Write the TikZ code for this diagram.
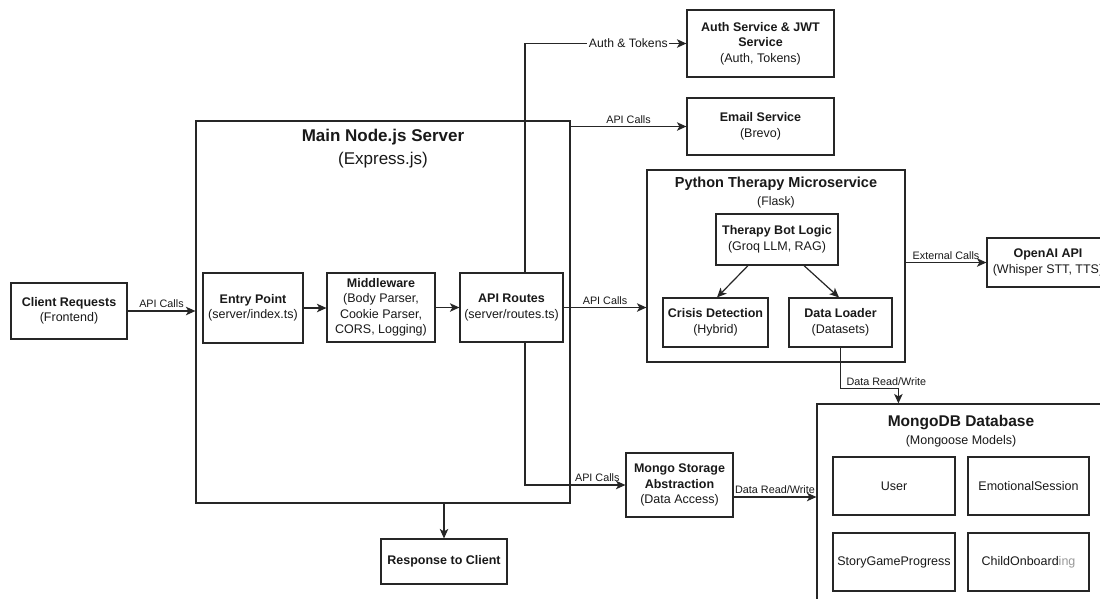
\documentclass[tikz,border=0pt]{standalone}
\usepackage{fontspec}
\setmainfont{Liberation Sans}
\usetikzlibrary{arrows.meta,calc}

\tikzset{
  box/.style={draw=black!85, line width=1.2pt, fill=white, inner sep=2pt,
    align=center, text=black!90, font=\fontsize{12.5}{15.5}\selectfont},
  conn/.style={draw=black!85, line width=1.2pt,
    -{Stealth[length=9.5pt,width=8.5pt,inset=2.5pt]}},
  lbl/.style={font=\fontsize{10.8}{12}\selectfont, text=black!90, inner sep=1.5pt},
  ttl/.style={text=black!90, inner sep=0pt},
}

\begin{document}
\begin{tikzpicture}[x=1pt, y=-1pt]
\useasboundingbox (0,0) rectangle (1100,598);
\clip (0,0) rectangle (1100,598);
\fill[white] (0,0) rectangle (1100,598);

% Main server container
\node[box, minimum width=374pt, minimum height=382pt] (main) at (383,312) {};
\node[ttl, font=\fontsize{17}{20}\selectfont\bfseries] (maint) at (383,137) {Main Node.js Server};
\node[ttl, font=\fontsize{17}{20}\selectfont] (mains) at (383,160) {(Express.js)};

% Python microservice container
\node[box, minimum width=258pt, minimum height=192pt] (python) at (776,266) {};
\node[ttl, font=\fontsize{14.5}{17}\selectfont\bfseries] (pyt) at (776,184) {Python Therapy Microservice};
\node[ttl, font=\fontsize{12.3}{15}\selectfont] (pys) at (776,202) {(Flask)};

% MongoDB container
\node[box, minimum width=288pt, minimum height=216pt] (mongodb) at (961,512) {};
\node[ttl, font=\fontsize{15.5}{18}\selectfont\bfseries] (mdbt) at (961,423) {MongoDB Database};
\node[ttl, font=\fontsize{12.5}{15}\selectfont] (mdbs) at (961,441) {(Mongoose Models)};

% Boxes
\node[box, minimum width=116pt, minimum height=56pt] (client) at (69,311)
  {\textbf{Client Requests}\\(Frontend)};
\node[box, minimum width=100pt, minimum height=70pt] (entry) at (253,308)
  {\textbf{Entry Point}\\(server/index.ts)};
\node[box, minimum width=108pt, minimum height=69pt] (middleware) at (381,307.5)
  {\textbf{Middleware}\\(Body Parser,\\Cookie Parser,\\CORS, Logging)};
\node[box, minimum width=103pt, minimum height=69pt] (routes) at (511.5,307.5)
  {\textbf{API Routes}\\(server/routes.ts)};
\node[box, minimum width=147pt, minimum height=67pt] (auth) at (760.5,43.5)
  {\textbf{Auth Service \& JWT}\\\textbf{Service}\\(Auth, Tokens)};
\node[box, minimum width=147pt, minimum height=57pt] (email) at (760.5,126.5)
  {\textbf{Email Service}\\(Brevo)};
\node[box, minimum width=122pt, minimum height=51pt] (therapy) at (777,239.5)
  {\textbf{Therapy Bot Logic}\\(Groq LLM, RAG)};
\node[box, minimum width=105pt, minimum height=49pt] (crisis) at (715.5,322.5)
  {\textbf{Crisis Detection}\\(Hybrid)};
\node[box, minimum width=103pt, minimum height=49pt] (loader) at (840.5,322.5)
  {\textbf{Data Loader}\\(Datasets)};
\node[box, minimum width=122pt, minimum height=49pt] (openai) at (1048,262.5)
  {\textbf{OpenAI API}\\(Whisper STT, TTS)};
\node[box, minimum width=107pt, minimum height=64pt] (storage) at (679.5,485)
  {\textbf{Mongo Storage}\\\textbf{Abstraction}\\(Data Access)};
\node[box, minimum width=126pt, minimum height=45pt] (response) at (444,561.5)
  {\textbf{Response to Client}};

% Mongoose models
\node[box, minimum width=122pt, minimum height=58pt] (user) at (894,486) {User};
\node[box, minimum width=121pt, minimum height=58pt] (emo) at (1028.5,486) {EmotionalSession};
\node[box, minimum width=122pt, minimum height=58pt] (story) at (894,562) {StoryGameProgress};
\node[box, minimum width=121pt, minimum height=58pt] (child) at (1028.5,562)
  {ChildOnboard\textcolor{black!40}{ing}};

% Connectors
\draw[conn] (client.east) -- (client.east -| main.west)
  node[lbl, midway, above, yshift=1pt] {API Calls};
\draw[conn] (entry.east) -- (entry.east -| middleware.west);
\draw[conn] (middleware.east) -- (middleware.east -| routes.west);
\draw[conn] (routes.east) -- (routes.east -| python.west)
  node[lbl, midway, above, yshift=1pt] {API Calls};

\draw[conn] ($(routes.north)+(13.5,0)$) |- (auth.west)
  node[lbl, pos=0.82, fill=white, font=\fontsize{12.2}{14}\selectfont] {Auth \& Tokens};
\draw[conn] (email.west -| main.east) -- (email.west)
  node[lbl, midway, above, yshift=1pt] {API Calls};

\draw[conn] ($(therapy.south)+(-29,0)$) -- ($(crisis.north)+(1.5,0)$);
\draw[conn] ($(therapy.south)+(27,0)$) -- ($(loader.north)+(-1.5,0)$);

\draw[conn] (openai.west -| python.east) -- (openai.west)
  node[lbl, midway, above, yshift=1pt] {External Calls};

\draw[conn] (loader.south) -- ++(0,41) coordinate (bend)
  node[lbl, anchor=south west, xshift=4pt, yshift=1pt] {Data Read/Write}
  -| ($(mongodb.north west)+(82,0)$);

\draw[conn] ($(routes.south)+(13.5,0)$) |- (storage.west)
  node[lbl, pos=0.86, above, yshift=1pt] {API Calls};
\coordinate (storeout) at ($(storage.east)+(0,12)$);
\draw[conn] (storeout) -- (storeout -| mongodb.west)
  node[lbl, midway, above, yshift=1pt] {Data Read/Write};

\draw[conn] (response.north |- main.south) -- (response.north);
\end{tikzpicture}
\end{document}
